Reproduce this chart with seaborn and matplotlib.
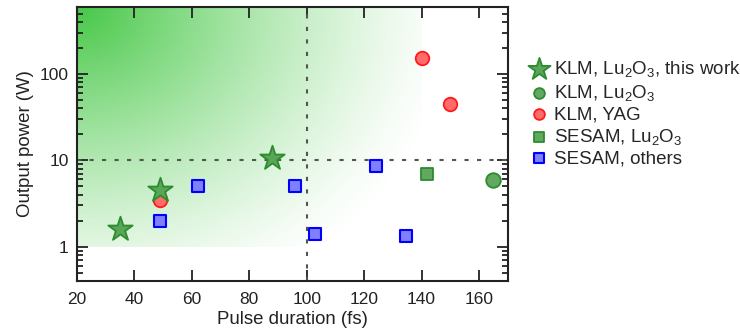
import numpy as np
import pandas as pd
import seaborn as sns
import matplotlib.pyplot as plt
from matplotlib.ticker import FixedLocator, LogLocator, NullFormatter, FuncFormatter

# data
star_x = [35, 49, 88]
star_y = [1.6, 4.5, 10.7]
klm_lu_x = [165]
klm_lu_y = [5.9]
klm_yag_x = [49, 140, 150]
klm_yag_y = [3.45, 153, 44.5]
sesam_lu_x = [142]
sesam_lu_y = [7.0]
sesam_oth_x = [49, 62, 96, 103, 124, 134.7]
sesam_oth_y = [2.0, 5.1, 5.1, 1.4, 8.6, 1.31]

labels = ['KLM, Lu$_2$O$_3$, this work', 'KLM, Lu$_2$O$_3$', 'KLM, YAG',
          'SESAM, Lu$_2$O$_3$', 'SESAM, others']
xticks = [20, 40, 60, 80, 100, 120, 140, 160]
yticks = [1, 10, 100]

sns.set_style('ticks')
plt.rcParams['font.family'] = ['Liberation Sans', 'DejaVu Sans']
plt.rcParams['mathtext.default'] = 'regular'

fig = plt.figure(figsize=(7.4, 3.32), dpi=100)
ax = fig.add_axes([0.104, 0.154, 0.582, 0.825])
ax.set_xlim(20, 170)
ax.set_yscale('log')
ax.set_ylim(0.4, 600)

# green gradient: x 20..140, y 1..600 (axes fraction coords)
x0, x1 = 0.0, (140 - 20) / 150
y0 = (np.log10(1) - np.log10(0.4)) / (np.log10(600) - np.log10(0.4))
ny, nx = 300, 400
u = np.linspace(0, 1, nx)[None, :]
w = np.linspace(0, 1, ny)[:, None]
t = np.clip(np.sqrt(u ** 2 + (w / 1.2) ** 2) / 1.1, 0, 1)
alpha = (1 - t) ** 1.3
img = np.zeros((ny, nx, 4))
img[..., 0] = 70 / 255
img[..., 1] = 200 / 255
img[..., 2] = 70 / 255
img[..., 3] = alpha
ax.imshow(img, extent=[x0, x1, y0, 1], transform=ax.transAxes, aspect='auto',
          origin='upper', zorder=0, interpolation='bilinear')

ax.axvline(100, color='#555555', ls=(0, (2, 4)), lw=1.5, zorder=1)
ax.axhline(10, color='#555555', ls=(0, (2, 4)), lw=1.5, zorder=1)

sns.scatterplot(x=klm_yag_x, y=klm_yag_y, ax=ax, marker='o', s=95,
                color=(1, 0.42, 0.42), edgecolor='#ff1a1a', linewidth=1.3,
                label=labels[2], zorder=3)
sns.scatterplot(x=star_x, y=star_y, ax=ax, marker='*', s=340,
                color=(0.35, 0.65, 0.35), edgecolor='#2e8b2e', linewidth=1.3,
                label=labels[0], zorder=4)
sns.scatterplot(x=klm_lu_x, y=klm_lu_y, ax=ax, marker='o', s=110,
                color=(0.38, 0.66, 0.38), edgecolor='#2e8b2e', linewidth=1.3,
                label=labels[1], zorder=3)
sns.scatterplot(x=sesam_lu_x, y=sesam_lu_y, ax=ax, marker='s', s=85,
                color=(0.38, 0.66, 0.38), edgecolor='#2e8b2e', linewidth=1.3,
                label=labels[3], zorder=3)
sns.scatterplot(x=sesam_oth_x, y=sesam_oth_y, ax=ax, marker='s', s=85,
                color=(0.5, 0.5, 1.0), edgecolor='#0000ff', linewidth=1.5,
                label=labels[4], zorder=3)

handles, labs = ax.get_legend_handles_labels()
order = [labs.index(l) for l in labels]
leg = fig.legend([handles[i] for i in order], [labs[i] for i in order],
                 loc='upper left', bbox_to_anchor=(0.69, 0.872), frameon=False,
                 fontsize=13.5, handletextpad=0.2, labelspacing=0.18,
                 handlelength=1.2)
ax.get_legend().remove()
leg.legend_handles[0].set_sizes([280])
for h in leg.legend_handles[1:]:
    h.set_sizes([60])

ax.xaxis.set_major_locator(FixedLocator(xticks))
ax.yaxis.set_major_locator(FixedLocator(yticks))
ax.yaxis.set_major_formatter(FuncFormatter(lambda v, p: '%g' % v))
ax.yaxis.set_minor_locator(LogLocator(base=10, subs=np.arange(2, 10)))
ax.yaxis.set_minor_formatter(NullFormatter())
ax.tick_params(which='both', direction='in', top=True, right=True,
               labelsize=12.5, colors='#222222', width=1.3)
ax.tick_params(which='major', length=8)
ax.tick_params(axis='x', which='major', pad=8)
ax.tick_params(axis='y', which='major', pad=6)
ax.tick_params(which='minor', length=4)
for sp in ax.spines.values():
    sp.set_linewidth(1.5)
    sp.set_color('#222222')

ax.set_xlabel('Pulse duration (fs)', fontsize=13.4, color='#222222', labelpad=3)
ax.set_ylabel('Output power (W)', fontsize=13.4, color='#222222', labelpad=4)

plt.savefig('out.png', dpi=100)
